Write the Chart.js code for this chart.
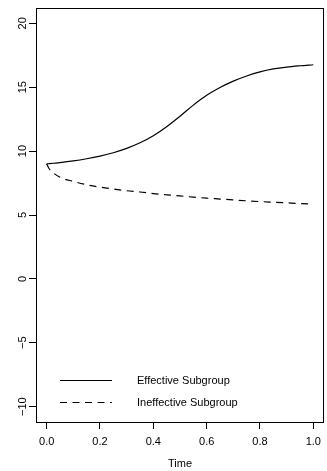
<!DOCTYPE html>
<html>
<head>
<meta charset="utf-8">
<script src="https://cdn.jsdelivr.net/npm/chart.js@4/dist/chart.umd.min.js"></script>
<style>
  html, body { margin: 0; padding: 0; background: #ffffff; }
  #wrap { width: 327px; height: 471px; position: relative; }
</style>
</head>
<body>
<div id="wrap"><canvas id="c" width="327" height="471"></canvas></div>
<script>
// ---- data ----
const times = [0, 0.01, 0.025, 0.05, 0.1, 0.15, 0.2, 0.25, 0.3, 0.35, 0.4, 0.45, 0.5, 0.55, 0.6, 0.65, 0.7, 0.75, 0.8, 0.85, 0.9, 0.95, 1.0];
const effective = [9.0, 9.02, 9.05, 9.1, 9.23, 9.4, 9.61, 9.87, 10.21, 10.65, 11.21, 11.91, 12.73, 13.6, 14.37, 14.98, 15.48, 15.88, 16.2, 16.43, 16.58, 16.68, 16.76];
const ineffective = [9.0, 8.6, 8.3, 7.95, 7.63, 7.37, 7.18, 7.03, 6.9, 6.8, 6.68, 6.58, 6.49, 6.4, 6.32, 6.25, 6.18, 6.11, 6.05, 6.0, 5.95, 5.9, 5.86];
const seriesLabels = ["Effective Subgroup", "Ineffective Subgroup"];
const xTicks = [0, 0.2, 0.4, 0.6, 0.8, 1.0];
const yTicks = [-10, -5, 0, 5, 10, 15, 20];
const xTitle = "Time";

const FONT = "'Liberation Sans', Arial, Helvetica, sans-serif";
const DASH = [7, 5.5];

const toPts = (ys) => times.map((t, i) => ({ x: t, y: ys[i] }));

const boxPlugin = {
  id: 'box',
  afterDraw(chart) {
    const { ctx, chartArea: a } = chart;
    ctx.save();
    ctx.strokeStyle = '#000';
    ctx.lineWidth = 1;
    ctx.setLineDash([]);
    const l = Math.round(a.left) + 0.5, t = Math.round(a.top) + 0.5;
    const r = Math.round(a.right) - 0.5, b = Math.round(a.bottom) + 0.5;
    ctx.strokeRect(l, t, r - l, b - t);
    ctx.restore();
  }
};

const legendPlugin = {
  id: 'rlegend',
  afterDraw(chart) {
    const { ctx, chartArea: a } = chart;
    const ds = chart.data.datasets;
    const x0 = a.left + 24, x1 = a.left + 76, tx = a.left + 101;
    const rows = [a.bottom - 42, a.bottom - 20.5];
    ctx.save();
    ds.forEach((d, i) => {
      const y = Math.round(rows[i]) + 0.5;
      ctx.strokeStyle = d.borderColor;
      ctx.lineWidth = d.borderWidth;
      ctx.setLineDash(d.borderDash || []);
      ctx.beginPath();
      ctx.moveTo(x0, y);
      ctx.lineTo(x1, y);
      ctx.stroke();
      ctx.setLineDash([]);
      ctx.fillStyle = '#000';
      ctx.font = '11px ' + FONT;
      ctx.textAlign = 'left';
      ctx.textBaseline = 'middle';
      ctx.fillText(d.label, tx, y);
    });
    ctx.restore();
  }
};

new Chart(document.getElementById('c'), {
  type: 'line',
  data: {
    datasets: [
      { label: seriesLabels[0], data: toPts(effective), borderColor: '#000', borderWidth: 1.2, pointRadius: 0, fill: false, cubicInterpolationMode: 'monotone' },
      { label: seriesLabels[1], data: toPts(ineffective), borderColor: '#000', borderWidth: 1.2, borderDash: DASH, pointRadius: 0, fill: false, cubicInterpolationMode: 'monotone' }
    ]
  },
  options: {
    responsive: false,
    animation: false,
    devicePixelRatio: 1,
    layout: { padding: { left: 0, top: 8, right: 1, bottom: 0 } },
    plugins: { legend: { display: false }, tooltip: { enabled: false }, title: { display: false } },
    scales: {
      x: {
        type: 'linear',
        min: -0.04, max: 1.04,
        afterBuildTicks(s) { s.ticks = xTicks.map(v => ({ value: v })); },
        afterFit(s) { s.height = 49; },
        grid: { drawOnChartArea: false, drawTicks: true, tickLength: 7, tickColor: '#000', tickWidth: 1 },
        border: { display: true, color: '#000', width: 1 },
        ticks: { color: '#000', padding: 6, font: { family: FONT, size: 11 }, maxRotation: 0, callback: v => Number(v).toFixed(1) },
        title: { display: true, text: xTitle, color: '#000', font: { family: FONT, size: 11 }, padding: { top: 0, bottom: 0 } }
      },
      y: {
        type: 'linear',
        min: -11.2, max: 21.2,
        afterBuildTicks(s) { s.ticks = yTicks.map(v => ({ value: v })); },
        afterFit(s) { s.width = 36; },
        grid: { drawOnChartArea: false, drawTicks: true, tickLength: 7, tickColor: '#000', tickWidth: 1 },
        border: { display: true, color: '#000', width: 1 },
        ticks: { color: '#000', padding: -3, crossAlign: 'center', minRotation: 90, maxRotation: 90, font: { family: FONT, size: 11 },
                 callback: v => (v < 0 ? '\u2212' + Math.abs(v) : String(v)) }
      }
    }
  },
  plugins: [boxPlugin, legendPlugin]
});
</script>
</body>
</html>
